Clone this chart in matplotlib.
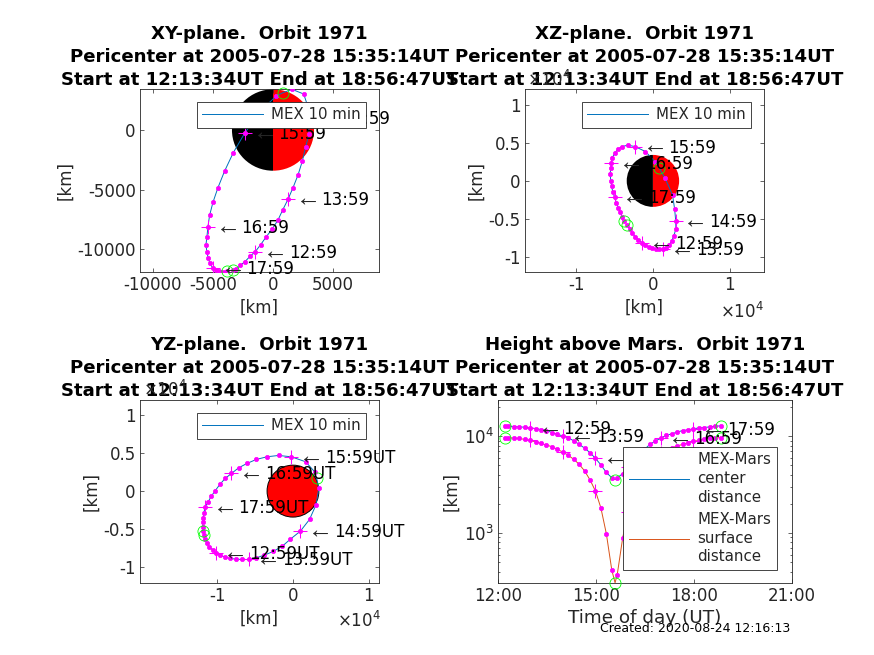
import numpy as np
import matplotlib
matplotlib.use("Agg")
import matplotlib.pyplot as plt
from matplotlib.patches import Wedge, Circle

plt.rcParams['font.family'] = ['DejaVu Sans']
plt.rcParams['mathtext.default'] = 'regular'
plt.rcParams['axes.unicode_minus'] = False

W, H = 874, 655
MARS_R = 3420

# sample times, 10 min apart apart from the orbit start
TIMES = ["12:13", "12:19", "12:29", "12:39", "12:49", "12:59", "13:09", "13:19", "13:29", "13:39", "13:49",
         "13:59", "14:09", "14:19", "14:29", "14:39", "14:49", "14:59", "15:09", "15:19", "15:29", "15:39",
         "15:49", "15:59", "16:09", "16:19", "16:29", "16:39", "16:49", "16:59", "17:09", "17:19", "17:29",
         "17:39", "17:49", "17:59", "18:09", "18:19", "18:29", "18:39", "18:49"]
X = [-3336, -3058, -2724, -2335, -1890, -1473, -1029, -556, -83, 417, 806, 1251, 1668, 2085, 2446, 2724, 3002,
     2975, 2836, 2558, 1585, 278, -973, -2335, -3308, -4031, -4587, -5004, -5282, -5421, -5504, -5588, -5504,
     -5393, -5254, -5004, -4782, -4504, -4253, -4031, -3836]
Y = [-11788, -11648, -11368, -11060, -10584, -10220, -9632, -8960, -8344, -7560, -6720, -5824, -4844, -3780,
     -2604, -1400, -336, 980, 2184, 3024, 3416, 2856, 1680, -224, -1904, -3444, -4844, -6076, -7168, -8120,
     -8960, -9660, -10276, -10780, -11200, -11620, -11760, -11844, -11900, -11900, -11844]
Z = [-5839, -6278, -6805, -7331, -7770, -8122, -8429, -8692, -8868, -8956, -9000, -9000, -8780, -8429, -7946,
     -7244, -6322, -5268, -3732, -1844, 351, 2546, 3863, 4522, 4697, 4522, 4170, 3644, 3073, 2327, 1668, 878,
     44, -659, -1405, -2151, -2854, -3556, -4126, -4697, -5312]
CENTER = [12660, 12660, 12570, 12460, 12360, 12170, 11980, 11700, 11430, 10900, 10400, 10080, 9610, 8960, 8220,
          7530, 6750, 5900, 5050, 4215, 3720, 3700, 4110, 4850, 5640, 6440, 7300, 8220, 8890, 9540, 10160, 10560,
          10990, 11430, 11610, 11890, 12170, 12270, 12460, 12660, 12760]
SURFACE = [9610, 9610, 9540, 9460, 9250, 9030, 8750, 8410, 8090, 7780, 7300, 6850, 6340, 5770, 5130, 4380, 3540,
           2710, 1815, 984, 415, 372, 890, 1650, 2550, 3500, 4450, 5400, 6150, 6750, 7200, 7560, 7910, 8220,
           8550, 8820, 9030, 9390, 9540, 9610, 9610]

# pericenter sample, sits between 15:29 and 15:39
PERI_IDX = 21
PERI_TIME = "15:35"
PERI_X, PERI_Y, PERI_Z = 834, 3136, 1668
PERI_CENTER, PERI_SURFACE = 3560, 307

HOUR_IDX = [5, 11, 17, 23, 29, 35]
HOUR_NAMES = ["12:59", "13:59", "14:59", "15:59", "16:59", "17:59"]

TITLE_HEAD = "Pericenter at 2005-07-28 15:35:14UT\nStart at 12:13:34UT End at 18:56:47UT"
BLUE = "#0072BD"
ORANGE = "#D95319"
MAGENTA = "#FF00FF"
GREEN = "#00FF00"
DARK = "#262626"


def hours(stamp):
    h, m = stamp.split(":")
    return int(h) + int(m) / 60.0


def make_axes(left, right, top, bottom):
    ax = plt.axes([left / W, 1 - bottom / H, (right - left) / W, (bottom - top) / H])
    ax.tick_params(which="both", direction="in", top=True, right=True, length=2.6, width=0.5,
                   labelsize=12, colors=DARK, pad=3)
    ax.tick_params(which="minor", length=1.4)
    for s in ax.spines.values():
        s.set_linewidth(0.6)
        s.set_color(DARK)
    return ax


def draw_track(ax, a, b, peri_a, peri_b, color=BLUE, label="MEX 10 min"):
    a = np.array(a, dtype=float)
    b = np.array(b, dtype=float)
    ax.plot(np.insert(a, PERI_IDX, peri_a), np.insert(b, PERI_IDX, peri_b), color=color, lw=0.7,
            label=label, zorder=3)
    ax.plot(a, b, ls="none", marker="o", ms=3.1, mew=0.5, mfc=MAGENTA, mec=MAGENTA, zorder=4)
    ax.plot(a[HOUR_IDX], b[HOUR_IDX], ls="none", marker="+", ms=9.6, mew=0.75, mec=MAGENTA, zorder=4)
    ax.plot([a[0], a[-1], peri_a], [b[0], b[-1], peri_b], ls="none", marker="o", ms=8, mfc="none",
            mec=GREEN, mew=0.6, zorder=5, clip_on=False)


def hour_labels(ax, a, b, suffix=""):
    # arrow glyph from Liberation Sans, it is the thin long one
    for i, name in zip(HOUR_IDX, HOUR_NAMES):
        ax.annotate("\u2190", (a[i], b[i]), xytext=(7.5, 0.5), textcoords="offset pixels", fontsize=18,
                    family="Liberation Sans", color=DARK, va="center", ha="left", zorder=6, annotation_clip=False)
        ax.annotate(name + suffix, (a[i], b[i]), xytext=(33.5, -1), textcoords="offset pixels", fontsize=12,
                    color="black", va="center", ha="left", zorder=6, annotation_clip=False)


def add_legend(ax, right, top, spacing=None):
    leg = ax.legend(loc="upper right", bbox_to_anchor=(right, top), borderaxespad=0, fontsize=10.8,
                    fancybox=False, framealpha=1, edgecolor=DARK, handlelength=4.05, handletextpad=0.53,
                    borderpad=0.36)
    leg.get_frame().set_linewidth(0.6)
    leg.set_zorder(10)
    for t in leg.get_texts():
        t.set_color(DARK)
        if spacing:
            t.set_linespacing(spacing)
    return leg


def halves(ax, scale=1.0):
    ax.add_patch(Wedge((0, 0), MARS_R * scale, 90, 270, fc="black", ec="none", zorder=1))
    ax.add_patch(Wedge((0, 0), MARS_R * scale, -90, 90, fc="red", ec="none", zorder=1))


def exponent(ax, x, y):
    ax.text(x, y, r"$\times 10^{4}$", transform=ax.transAxes, fontsize=12, color=DARK, clip_on=False,
            zorder=7, va="baseline")


def labels(ax, title, ylabel_px, left, width, xlabel="[km]", xsize=12):
    ax.set_title(title + "\n" + TITLE_HEAD, fontsize=13.1, fontweight="bold", pad=2.5, linespacing=1.35)
    ax.set_xlabel(xlabel, fontsize=xsize, color=DARK, labelpad=3)
    ax.set_ylabel("[km]", fontsize=12, color=DARK, va="center")
    ax.yaxis.set_label_coords((ylabel_px - left) / width, 0.5)


fig = plt.figure(figsize=(W / 100, H / 100), dpi=100)

# XY plane
ax1 = make_axes(140, 379, 89, 272)
halves(ax1)
draw_track(ax1, X, Y, PERI_X, PERI_Y)
hour_labels(ax1, X, Y)
ax1.set_xlim(-11083, 8833)
ax1.set_ylim(-11930, 3445)
ax1.set_xticks([-10000, -5000, 0, 5000])
ax1.set_yticks([-10000, -5000, 0])
labels(ax1, "XY-plane.  Orbit 1971", 65, 140, 239)
add_legend(ax1, 0.946, 0.929)

# XZ plane, axis is in units of 1e4 km
scale = 1e-4
ax2 = make_axes(525, 764, 89, 272)
halves(ax2, scale)
x2 = np.array(X) * scale
z2 = np.array(Z) * scale
draw_track(ax2, x2, z2, PERI_X * scale, PERI_Z * scale)
hour_labels(ax2, x2, z2)
ax2.set_xlim(-1.67, 1.45)
ax2.set_ylim(-1.2, 1.21)
ax2.set_xticks([-1, 0, 1])
ax2.set_yticks([-1, -0.5, 0, 0.5, 1])
ax2.set_xticklabels(["-1", "0", "1"])
ax2.set_yticklabels(["-1", "-0.5", "0", "0.5", "1"])
labels(ax2, "XZ-plane.  Orbit 1971", 476, 525, 239)
exponent(ax2, 0.816, -0.25)
exponent(ax2, 0.008, 1.016)
add_legend(ax2, 0.946, 0.929)

# YZ plane
ax3 = make_axes(140, 379, 400, 583)
ax3.add_patch(Circle((0, 0), MARS_R * scale, fc="red", ec="black", lw=0.7, zorder=1))
y3 = np.array(Y) * scale
z3 = np.array(Z) * scale
draw_track(ax3, y3, z3, PERI_Y * scale, PERI_Z * scale)
hour_labels(ax3, y3, z3, suffix="UT")
ax3.set_xlim(-2.02, 1.136)
ax3.set_ylim(-1.21, 1.2)
ax3.set_xticks([-1, 0, 1])
ax3.set_yticks([-1, -0.5, 0, 0.5, 1])
ax3.set_xticklabels(["-1", "0", "1"])
ax3.set_yticklabels(["-1", "-0.5", "0", "0.5", "1"])
labels(ax3, "YZ-plane.  Orbit 1971", 91, 140, 239)
exponent(ax3, 0.824, -0.24)
exponent(ax3, 0.012, 1.022)
add_legend(ax3, 0.946, 0.929)

# height above Mars
ax4 = make_axes(498, 792, 400, 583)
t = np.array([hours(s) for s in TIMES])
peri_t = hours(PERI_TIME)
draw_track(ax4, t, CENTER, peri_t, PERI_CENTER, color=BLUE, label="MEX-Mars\ncenter\ndistance")
draw_track(ax4, t, SURFACE, peri_t, PERI_SURFACE, color=ORANGE, label="MEX-Mars\nsurface\ndistance")
hour_labels(ax4, t, CENTER)
ax4.set_yscale("log")
ax4.set_xlim(12, 21)
ax4.set_ylim(305, 23600)
ax4.set_xticks([12, 15, 18, 21])
ax4.set_xticklabels(["12:00", "15:00", "18:00", "21:00"])
ax4.set_yticks([1000, 10000])
ax4.set_yticklabels([r"$10^{3}$", r"$10^{4}$"])
ax4.tick_params(which="both", direction="in", top=True, right=True)
labels(ax4, "Height above Mars.  Orbit 1971", 451, 498, 294, xlabel="Time of day (UT)", xsize=13.2)
add_legend(ax4, 0.948, 0.743, spacing=1.3)

fig.text(600 / W, 1 - 629 / H, "Created: 2020-08-24 12:16:13", fontsize=9, color="black", va="center", ha="left")

fig.savefig("out.png", dpi=100)
